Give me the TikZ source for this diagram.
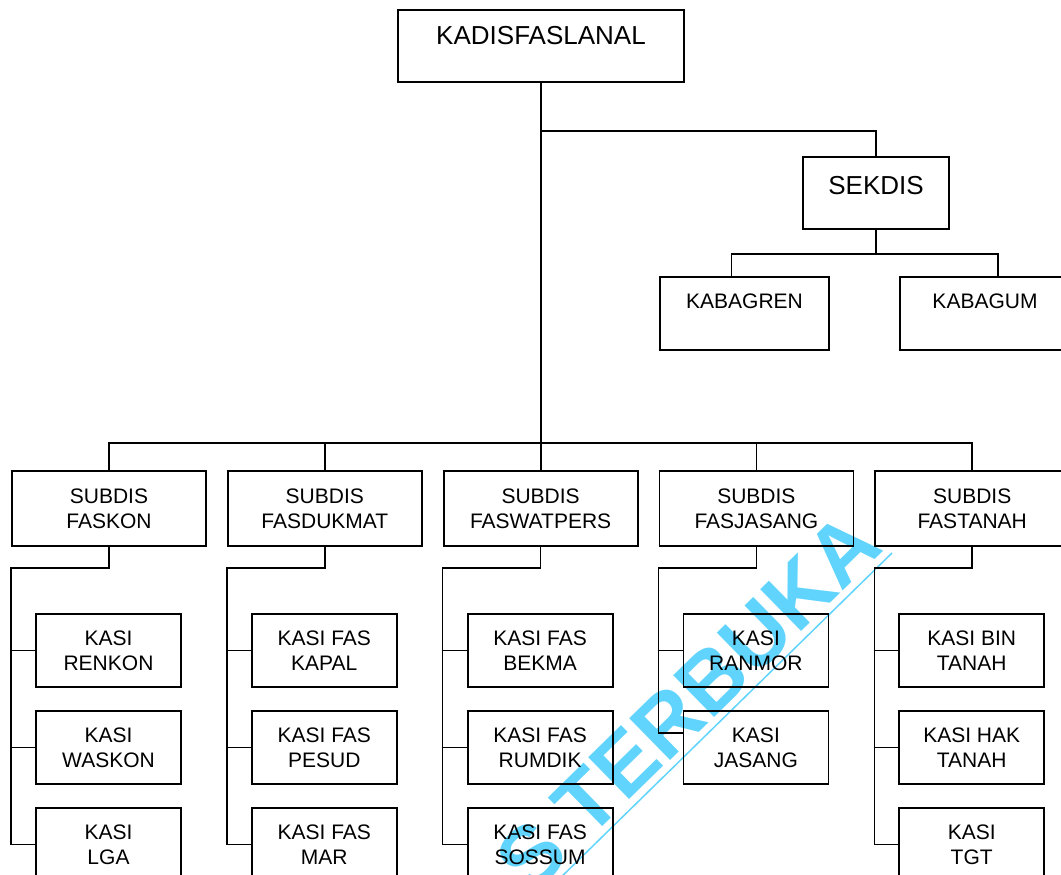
\documentclass[tikz,border=0pt]{standalone}
\usepackage{fontspec}
\setmainfont{Liberation Sans}
\usepackage{tikz}
\usetikzlibrary{positioning, calc}
\definecolor{wmcyan}{RGB}{96,212,252}

\begin{document}
\begin{tikzpicture}[
        x=0.5pt, y=-0.5pt,
        node distance=11.1pt and 10pt,
        headbox/.style={rectangle, draw=black, line width=0.9pt, inner sep=0pt, font=\fontsize{13}{15}\selectfont},
        unitbox/.style={rectangle, draw=black, line width=0.9pt, inner sep=0pt, text height=15.5pt, text depth=21pt, font=\fontsize{10.5}{12.5}\selectfont},
        subbox/.style={rectangle, draw=black, line width=0.9pt, minimum width=97pt, minimum height=37.5pt, inner sep=0pt, align=center, font=\fontsize{10.5}{12.5}\selectfont},
        kasibox/.style={rectangle, draw=black, line width=0.9pt, minimum width=72.5pt, minimum height=36.5pt, inner sep=0pt, align=center, font=\fontsize{10.5}{12.5}\selectfont},
        link/.style={draw=black, line width=0.75pt},
        wmark/.style={text=wmcyan, inner sep=0pt, font=\fontsize{42.5}{42.5}\selectfont\bfseries}
    ]
    \useasboundingbox (0,0) rectangle (1061,874);

    % Watermark
    \node[wmark, rotate=44.4, anchor=base east] (stamp) at (886,549) {S TERBUKA};
    \draw[wmcyan, line width=0.75pt] (552,886) -- (892,553);

    % Nodes
    \node[headbox, minimum width=143pt, text height=17.25pt, text depth=18.75pt] (kadis) at (541,46) {KADISFASLANAL};
    \node[headbox, minimum width=73pt, text height=18.5pt, text depth=17.5pt] (sekdis) at (876,193) {SEKDIS};
    \node[unitbox, minimum width=84.5pt] (kabagren) at (744.5,313.5) {KABAGREN};
    \node[unitbox, minimum width=85pt] (kabagum) at (985,313.5) {KABAGUM};

    \node[subbox] (faskon) at (109,508.5) {SUBDIS\\FASKON};
    \node[subbox, right=of faskon] (fasdukmat) {SUBDIS\\FASDUKMAT};
    \node[subbox, right=of fasdukmat] (faswatpers) {SUBDIS\\FASWATPERS};
    \node[subbox, right=of faswatpers] (fasjasang) {SUBDIS\\FASJASANG};
    \node[subbox, right=of fasjasang] (fastanah) {SUBDIS\\FASTANAH};

    \node[kasibox, below=33pt of faskon.south west, anchor=north west, xshift=12pt] (renkon) {KASI\\RENKON};
    \node[kasibox, below=of renkon] (waskon) {KASI\\WASKON};
    \node[kasibox, below=of waskon] (lga) {KASI\\LGA};

    \node[kasibox, below=33pt of fasdukmat.south west, anchor=north west, xshift=12pt] (kapal) {KASI FAS\\KAPAL};
    \node[kasibox, below=of kapal] (pesud) {KASI FAS\\PESUD};
    \node[kasibox, below=of pesud] (mar) {KASI FAS\\MAR};

    \node[kasibox, below=33pt of faswatpers.south west, anchor=north west, xshift=12pt] (bekma) {KASI FAS\\BEKMA};
    \node[kasibox, below=of bekma] (rumdik) {KASI FAS\\RUMDIK};
    \node[kasibox, below=of rumdik] (sossum) {KASI FAS\\SOSSUM};

    \node[kasibox, below=33pt of fasjasang.south west, anchor=north west, xshift=12pt] (ranmor) {KASI\\RANMOR};
    \node[kasibox, below=of ranmor] (jasang) {KASI\\JASANG};

    \node[kasibox, below=33pt of fastanah.south west, anchor=north west, xshift=12pt] (bintanah) {KASI BIN\\TANAH};
    \node[kasibox, below=of bintanah] (haktanah) {KASI HAK\\TANAH};
    \node[kasibox, below=of haktanah] (tgt) {KASI\\TGT};

    % Connections
    \coordinate (split) at (541,131);
    \coordinate (bus) at (541,443);
    \draw[link] (kadis.south) -- (kadis.south |- faswatpers.north);
    \draw[link] (split) -| (sekdis.north);
    \draw[link] (sekdis.south) -- ++(0,24) coordinate (sbar);
    \draw[link] ($(kabagren.north)+(-13,0)$) |- (sbar) -| ($(kabagum.north)+(13,0)$);
    \draw[link] (faskon.north) |- (bus) -| (fastanah.north);
    \draw[link] (fasdukmat.north) -- (fasdukmat.north |- bus);
    \draw[link] (fasjasang.north) -- (fasjasang.north |- bus);

    % Sections
    \draw[link] (faskon.south) -- ++(0,21) -| (faskon.south west |- lga.west) -- (lga.west);
    \draw[link] (faskon.south west |- renkon.west) -- (renkon.west);
    \draw[link] (faskon.south west |- waskon.west) -- (waskon.west);

    \draw[link] (fasdukmat.south) -- ++(0,21) -| (fasdukmat.south west |- mar.west) -- (mar.west);
    \draw[link] (fasdukmat.south west |- kapal.west) -- (kapal.west);
    \draw[link] (fasdukmat.south west |- pesud.west) -- (pesud.west);

    \draw[link] (faswatpers.south) -- ++(0,21) -| (faswatpers.south west |- sossum.west) -- (sossum.west);
    \draw[link] (faswatpers.south west |- bekma.west) -- (bekma.west);
    \draw[link] (faswatpers.south west |- rumdik.west) -- (rumdik.west);

    \draw[link] (fasjasang.south) -- ++(0,21) -| (fasjasang.south west |- jasang.169) -- (jasang.169);
    \draw[link] (fasjasang.south west |- ranmor.west) -- (ranmor.west);

    \draw[link] (fastanah.south) -- ++(0,21) -| (fastanah.south west |- tgt.west) -- (tgt.west);
    \draw[link] (fastanah.south west |- bintanah.west) -- (bintanah.west);
    \draw[link] (fastanah.south west |- haktanah.west) -- (haktanah.west);

\end{tikzpicture}
\end{document}
